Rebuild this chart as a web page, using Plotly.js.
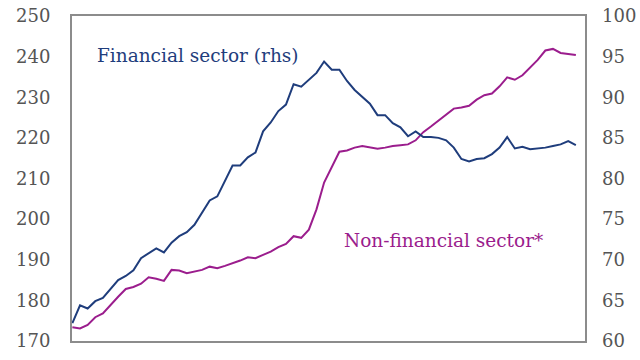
<!DOCTYPE html>
<html>
<head>
<meta charset="utf-8">
<script src="https://cdn.plot.ly/plotly-3.0.1.min.js"></script>
<style>html,body{margin:0;padding:0;background:#fff;}#chart{width:640px;height:360px;}</style>
</head>
<body>
<div id="chart"></div>
<script>
// Financial sector (right-hand scale), one value per period
const financialSector = [
  62.2, 64.4, 64.0, 64.9, 65.3, 66.4, 67.5, 68.0, 68.7, 70.2,
  70.8, 71.4, 70.9, 72.1, 72.9, 73.4, 74.3, 75.8, 77.3, 77.8,
  79.75, 81.6, 81.6, 82.6, 83.2, 85.8, 86.9, 88.3, 89.1, 91.6,
  91.3, 92.1, 93.0, 94.4, 93.4, 93.4, 92.0, 90.9, 90.0, 89.2,
  87.8, 87.8, 86.8, 86.3, 85.2, 85.8, 85.1, 85.1, 85.0, 84.7,
  83.8, 82.4, 82.1, 82.4, 82.5, 83.0, 83.8, 85.1, 83.7, 83.9,
  83.6, 83.7, 83.8, 84.0, 84.2, 84.6, 84.1
];
// Non-financial sector (left-hand scale)
const nonFinancialSector = [
  173.4, 173.1, 173.95, 175.85, 176.8, 178.9, 180.9, 182.8, 183.3, 184.1,
  185.7, 185.3, 184.8, 187.5, 187.35, 186.7, 187.1, 187.5, 188.3, 187.9,
  188.5, 189.1, 189.8, 190.6, 190.4, 191.2, 192.0, 193.1, 193.9, 195.8,
  195.4, 197.4, 202.4, 209.0, 212.7, 216.6, 216.9, 217.6, 218.0, 217.7,
  217.3, 217.6, 218.0, 218.2, 218.4, 219.4, 221.4, 222.8, 224.3, 225.9,
  227.2, 227.5, 227.9, 229.4, 230.5, 230.9, 232.7, 234.9, 234.3, 235.4,
  237.2, 239.2, 241.5, 241.9, 240.9, 240.6, 240.4
];
const leftTicks = [170, 180, 190, 200, 210, 220, 230, 240, 250];
const rightTicks = [60, 65, 70, 75, 80, 85, 90, 95, 100];
const labels = ["Financial sector (rhs)", "Non-financial sector*"];

const navy = '#1f3d7c';
const magenta = '#9b1d8d';
const tickFont = {family: 'DejaVu Serif, Georgia, serif', size: 18, color: '#555555'};

const traces = [
  {y: nonFinancialSector, type: 'scatter', mode: 'lines', yaxis: 'y',
   line: {color: magenta, width: 2}, hoverinfo: 'skip'},
  {y: financialSector, type: 'scatter', mode: 'lines', yaxis: 'y2',
   line: {color: navy, width: 2}, hoverinfo: 'skip'}
];

const layout = {
  width: 640, height: 360,
  margin: {l: 72, r: 55, t: 16, b: 19, pad: 0},
  paper_bgcolor: '#fff', plot_bgcolor: '#fff',
  showlegend: false,
  xaxis: {range: [-0.05, 67.2], showticklabels: false, ticks: '', showgrid: false,
          zeroline: false, showline: true, mirror: true, linecolor: '#8c8c8c', linewidth: 2},
  yaxis: {range: [170, 250], tickvals: leftTicks, ticktext: leftTicks.map(String), ticks: '',
          showgrid: false, zeroline: false, showline: true, mirror: true,
          linecolor: '#8c8c8c', linewidth: 2, tickfont: tickFont, ticklabelstandoff: 16},
  yaxis2: {range: [60, 100], overlaying: 'y', side: 'right', tickvals: rightTicks,
           ticktext: rightTicks.map(String), ticks: '', showgrid: false, zeroline: false,
           showline: false, tickfont: tickFont, ticklabelstandoff: 16},
  annotations: [
    {text: labels[0], xref: 'paper', yref: 'paper', x: 0.045, y: 0.88,
     xanchor: 'left', yanchor: 'middle', showarrow: false,
     font: {family: 'DejaVu Serif, Georgia, serif', size: 18.5, color: navy}},
    {text: labels[1], xref: 'paper', yref: 'paper', x: 0.526, y: 0.31,
     xanchor: 'left', yanchor: 'middle', showarrow: false,
     font: {family: 'DejaVu Serif, Georgia, serif', size: 18.5, color: magenta}}
  ]
};

Plotly.newPlot('chart', traces, layout, {staticPlot: true, displayModeBar: false});
</script>
</body>
</html>
